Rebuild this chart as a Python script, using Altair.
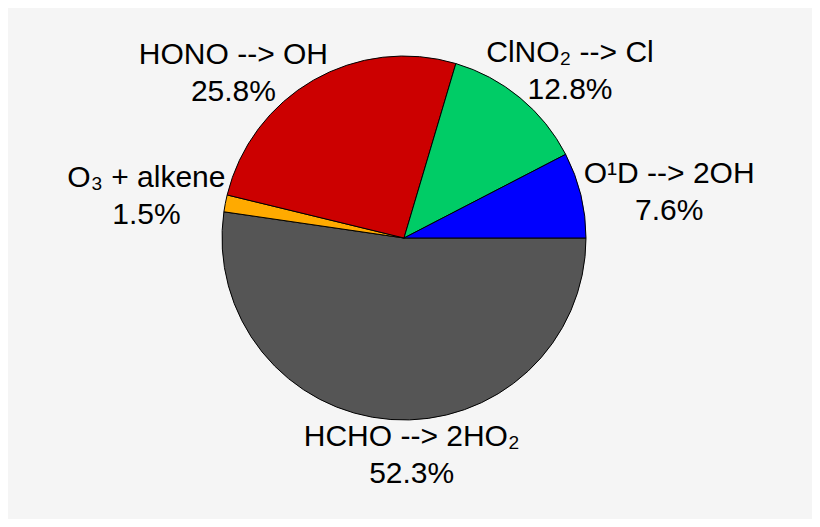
import altair as alt
import pandas as pd

# data (clockwise from 3 o'clock)
names = ["HCHO --> 2HO₂", "O₃ + alkene", "HONO --> OH", "ClNO₂ --> Cl", "O¹D --> 2OH"]
pcts = [52.3, 1.5, 25.8, 12.8, 7.6]
colors = ["#555555", "#ffaa00", "#cc0000", "#00cc66", "#0000ff"]
orders = [1, 2, 3, 4, 5]

df = pd.DataFrame({"name": names, "pct": pcts, "order": orders})

theta_scale = alt.Scale(domain=[0, 100], range=[1.5707963, 1.5707963 + 6.2831853])
color_scale = alt.Scale(domain=names, range=colors)

base = alt.Chart(df)

pie = base.mark_arc(outerRadius=182, stroke="black", strokeWidth=1).encode(
    theta=alt.Theta("pct:Q", stack=True, scale=theta_scale),
    color=alt.Color("name:N", scale=color_scale, legend=None),
    order=alt.Order("order:Q"),
)

lab_base = base.transform_window(
    cum="sum(pct)", sort=[alt.SortField("order")]
).transform_calculate(
    mid="datum.cum - datum.pct / 2",
    label="datum.name + '\\n' + format(datum.pct, '.1f') + '%'",
)

# per-label nudges (dx, dy) from the radial position
nudges = {
    "HCHO --> 2HO₂": (25, -40),
    "O₃ + alkene": (-22, -14),
    "HONO --> OH": (-51, 25),
    "ClNO₂ --> Cl": (13, 0),
    "O¹D --> 2OH": (32, -7),
}

layers = [pie]
for nm in names:
    dx, dy = nudges[nm]
    layers.append(
        lab_base.transform_filter(alt.datum.name == nm)
        .mark_text(
            radius=240, dx=dx, dy=dy, font="Liberation Sans", fontSize=30,
            lineBreak="\n", lineHeight=37, color="black", align="center", baseline="middle",
        )
        .encode(
            theta=alt.Theta("mid:Q", stack=None, scale=theta_scale),
            text="label:N",
        )
    )

chart = alt.layer(*layers).properties(
    width=792, height=460,
    padding={"left": 0, "top": 0, "right": 12, "bottom": 51},
    autosize=alt.AutoSizeParams(type="none"),
    background="#f5f5f5",
).configure_view(stroke=None)

chart.save("out.html", embed_options={"renderer": "svg", "actions": False})
